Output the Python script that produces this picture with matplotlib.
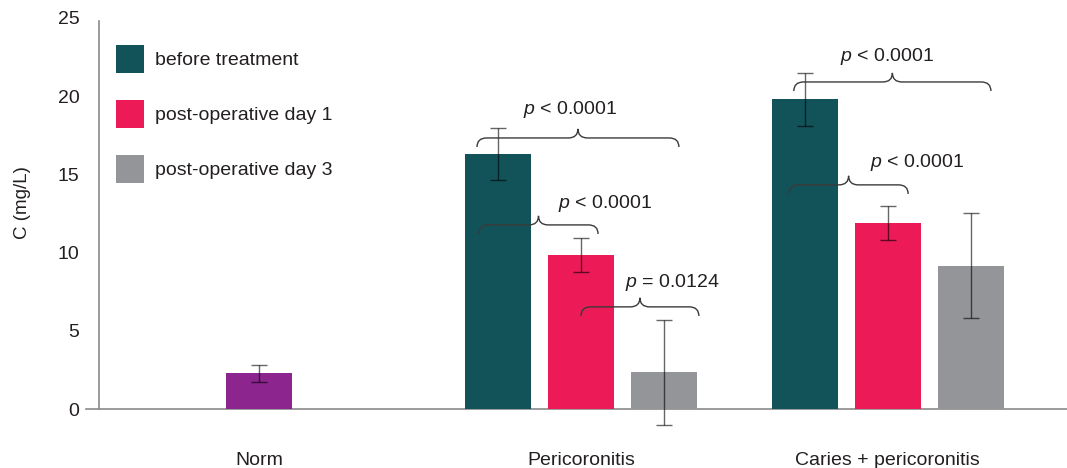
import matplotlib
matplotlib.use("Agg")
import matplotlib.pyplot as plt
from matplotlib.path import Path
from matplotlib.patches import PathPatch
import numpy as np

plt.rcParams['font.family'] = ['Liberation Sans', 'DejaVu Sans']
plt.rcParams['mathtext.fontset'] = 'custom'
plt.rcParams['mathtext.rm'] = 'Liberation Sans'
plt.rcParams['mathtext.it'] = 'Liberation Sans:italic'

# ---- data ----
categories = ["Norm", "Pericoronitis", "Caries + pericoronitis"]
group_pos = [0.0, 1.0, 1.953]
series_labels = ["before treatment", "post-operative day 1", "post-operative day 3"]
norm_mean = [2.27]
norm_err = [0.54]
before_mean = [16.3, 19.8]
before_err = [1.67, 1.71]
day1_mean = [9.87, 11.9]
day1_err = [1.09, 1.09]
day3_mean = [2.34, 9.17]
day3_err = [3.37, 3.37]
yticks = [0, 5, 10, 15, 20, 25]

# significance braces: (x start, x end, y of brace ends, label, label x, label y)
braces = [
    (0.677, 1.304, 16.75, r'$\it{p}$ < 0.0001', 0.966, 19.12),
    (0.683, 1.053, 11.19, r'$\it{p}$ < 0.0001', 1.075, 13.17),
    (1.000, 1.366, 5.95, r'$\it{p}$ = 0.0124', 1.283, 8.06),
    (1.661, 2.273, 20.33, r'$\it{p}$ < 0.0001', 1.950, 22.57),
    (1.646, 2.016, 13.75, r'$\it{p}$ < 0.0001', 2.043, 15.79),
]

colors = ["#12535A", "#EC1A57", "#939598"]
norm_color = "#8C258E"
text_color = "#231F20"
axis_color = "#8A8A8A"

W, H = 1067, 468
fig = plt.figure(figsize=(W / 100, H / 100), dpi=100)
ax_left, ax_right, ax_bottom, ax_top = 99, 1067, 409, 18
ax = fig.add_axes([ax_left / W, (H - ax_bottom) / H, (ax_right - ax_left) / W, (ax_bottom - ax_top) / H])

bar_w = 0.205
off = 0.2578
ecol = (0, 0, 0, 0.6)
ekw = dict(elinewidth=1.0, capthick=1.0)


def unclip(container):
    for child in container.get_children():
        child.set_clip_on(False)


ax.bar(group_pos[0], norm_mean, bar_w, color=norm_color, zorder=2)
unclip(ax.errorbar(group_pos[0], norm_mean, yerr=norm_err, fmt='none', ecolor=ecol,
                   capsize=5.5, zorder=3, **ekw))

gp = np.array(group_pos[1:])
for i, (m, e) in enumerate([(before_mean, before_err), (day1_mean, day1_err), (day3_mean, day3_err)]):
    xs = gp + (i - 1) * off
    ax.bar(xs, m, bar_w, color=colors[i], label=series_labels[i], zorder=2)
    unclip(ax.errorbar(xs, m, yerr=e, fmt='none', ecolor=ecol, capsize=5.5, zorder=3, **ekw))


def brace_path(x0, x1, y, h=0.58, r=0.03):
    xm = (x0 + x1) / 2
    verts = [
        (x0, y), (x0, y + h), (x0 + r, y + h),
        (xm - r, y + h), (xm, y + h), (xm, y + 2 * h),
        (xm, y + h), (xm + r, y + h),
        (x1 - r, y + h), (x1, y + h), (x1, y),
    ]
    codes = [Path.MOVETO, Path.CURVE3, Path.CURVE3,
             Path.LINETO, Path.CURVE3, Path.CURVE3,
             Path.CURVE3, Path.CURVE3,
             Path.LINETO, Path.CURVE3, Path.CURVE3]
    return Path(verts, codes)


for x0, x1, y, lab, tx, ty in braces:
    ax.add_patch(PathPatch(brace_path(x0, x1, y), facecolor='none', edgecolor='#3a3a3a', lw=1.0, zorder=4))
    ax.text(tx, ty, lab, ha='center', va='center', fontsize=14, color=text_color, zorder=5)

ax.set_xlim((ax_left - 259) / 322, (ax_right - 259) / 322)
ax.set_ylim(0, 25)
ax.set_yticks(yticks)
ax.set_yticklabels([str(t) for t in yticks])
ax.set_xticks(group_pos)
ax.set_xticklabels(categories)
ax.tick_params(axis='y', length=0, pad=14, labelsize=14, labelcolor=text_color)
ax.tick_params(axis='x', length=0, pad=31, labelsize=14, labelcolor=text_color)

for s in ['top', 'right', 'bottom']:
    ax.spines[s].set_visible(False)
ax.spines['left'].set_color(axis_color)
ax.spines['left'].set_linewidth(1.2)
ax.spines['left'].set_bounds(0, 24.8)
ax.plot([-13 / 968, 1.0], [0, 0], transform=ax.get_yaxis_transform(), color=axis_color, lw=1.2,
        clip_on=False, zorder=1)

ax.set_ylabel("C (mg/L)", fontsize=13.5, color=text_color)
ax.yaxis.set_label_coords((31 - 99) / 968, (409 - 203) / 391)

leg = ax.legend(loc='upper left', bbox_to_anchor=((116 - 99) / 968, (409 - 45) / 391),
                frameon=False, fontsize=14, handlelength=1.44, handleheight=1.84,
                labelspacing=1.39, handletextpad=0.57, borderpad=0, borderaxespad=0)
for t in leg.get_texts():
    t.set_color(text_color)

fig.savefig("out.png", dpi=100)
